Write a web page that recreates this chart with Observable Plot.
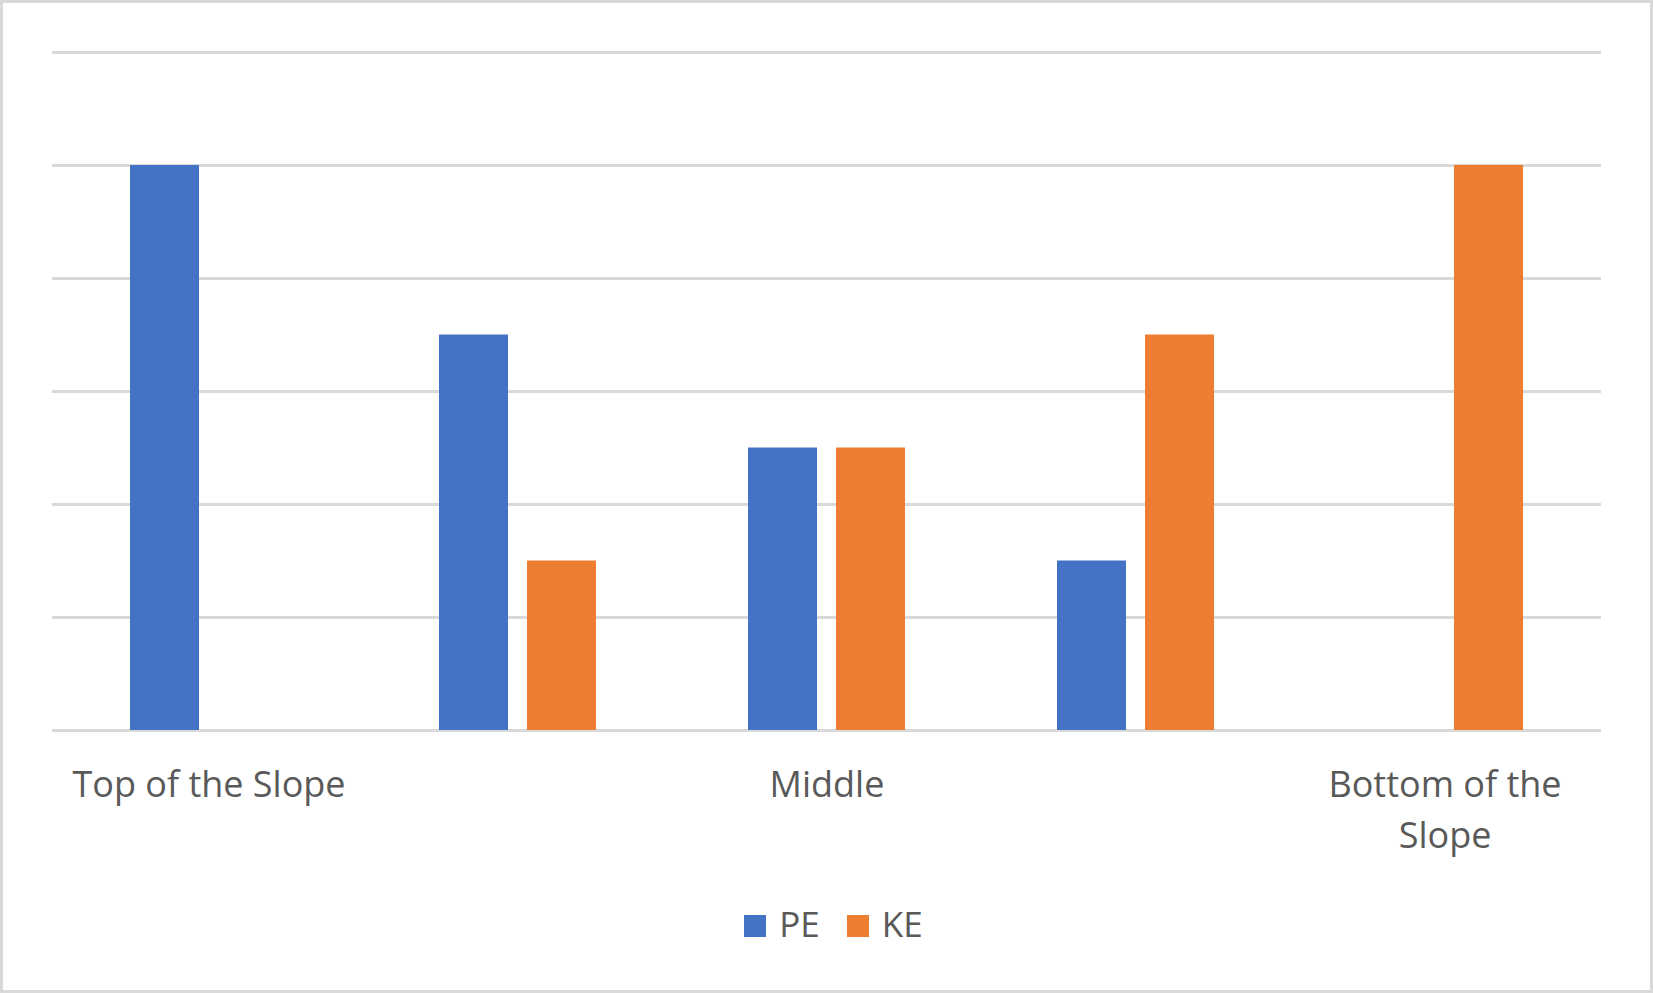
<!DOCTYPE html>
<html>
<head>
<meta charset="utf-8">
<script src="https://cdn.jsdelivr.net/npm/d3@7"></script>
<script src="https://cdn.jsdelivr.net/npm/@observablehq/plot@0.6"></script>
<style>
  html, body { margin: 0; padding: 0; background: #fff; }
  #wrap { position: relative; width: 1653px; height: 993px; overflow: hidden; font-family: "Open Sans", sans-serif; }
  #border { position: absolute; left: 0; top: 0; right: 0; bottom: 0; border: 3px solid #D9D9D9; pointer-events: none; }
  #chart { position: absolute; left: 0; top: 0; }
  #legend { position: absolute; left: 7px; top: 900px; width: 1653px; display: flex; justify-content: center; align-items: center; gap: 0; color: #595959; font-size: 35px; }
  .item { display: flex; align-items: center; }
  .sw { width: 22px; height: 22px; margin-right: 13px; margin-top: 4px; }
  .item + .item { margin-left: 27px; }
</style>
</head>
<body>
<div id="wrap">
  <div id="chart"></div>
  <div id="legend"></div>
  <div id="border"></div>
</div>
<script>
// Data
const positions = [1, 2, 3, 4, 5];
const labels = ["Top of the Slope", "", "Middle", "", "Bottom of the Slope"];
const series = ["PE", "KE"];
const peValues = [5, 3.5, 2.5, 1.5, 0];
const keValues = [0, 1.5, 2.5, 3.5, 5];
const yTicks = [0, 1, 2, 3, 4, 5, 6];
const colors = ["#4472C4", "#ED7D31"];

const peData = positions.map((p, i) => ({pos: p, value: peValues[i]}));
const keData = positions.map((p, i) => ({pos: p, value: keValues[i]}));

const chart = Plot.plot({
  width: 1653,
  height: 880,
  marginLeft: 52,
  marginRight: 52,
  marginTop: 52,
  marginBottom: 150,
  style: {fontFamily: "Open Sans, sans-serif", background: "transparent"},
  x: {domain: positions, padding: 0},
  y: {domain: [0, 6], axis: null},
  marks: [
    Plot.gridY(yTicks, {stroke: "#D9D9D9", strokeOpacity: 1, strokeWidth: 3}),
    Plot.barY(peData, {x: "pos", y: "value", fill: colors[0], insetLeft: 76, insetRight: 164}),
    Plot.barY(keData, {x: "pos", y: "value", fill: colors[1], insetLeft: 164, insetRight: 76}),
    Plot.axisX({
      tickSize: 0,
      tickPadding: 31,
      tickFormat: (d) => labels[positions.indexOf(d)],
      fontSize: 36,
      fill: "#595959",
      lineWidth: 8,
      lineHeight: 1.4,
      label: null
    })
  ]
});
chart.querySelectorAll("text").forEach(t => t.style.fontSize = "36px");
document.getElementById("chart").appendChild(chart);

const legend = document.getElementById("legend");
series.forEach((s, i) => {
  const item = document.createElement("div");
  item.className = "item";
  const sw = document.createElement("div");
  sw.className = "sw";
  sw.style.background = colors[i];
  const lab = document.createElement("span");
  lab.textContent = s;
  item.appendChild(sw);
  item.appendChild(lab);
  legend.appendChild(item);
});
</script>
</body>
</html>
